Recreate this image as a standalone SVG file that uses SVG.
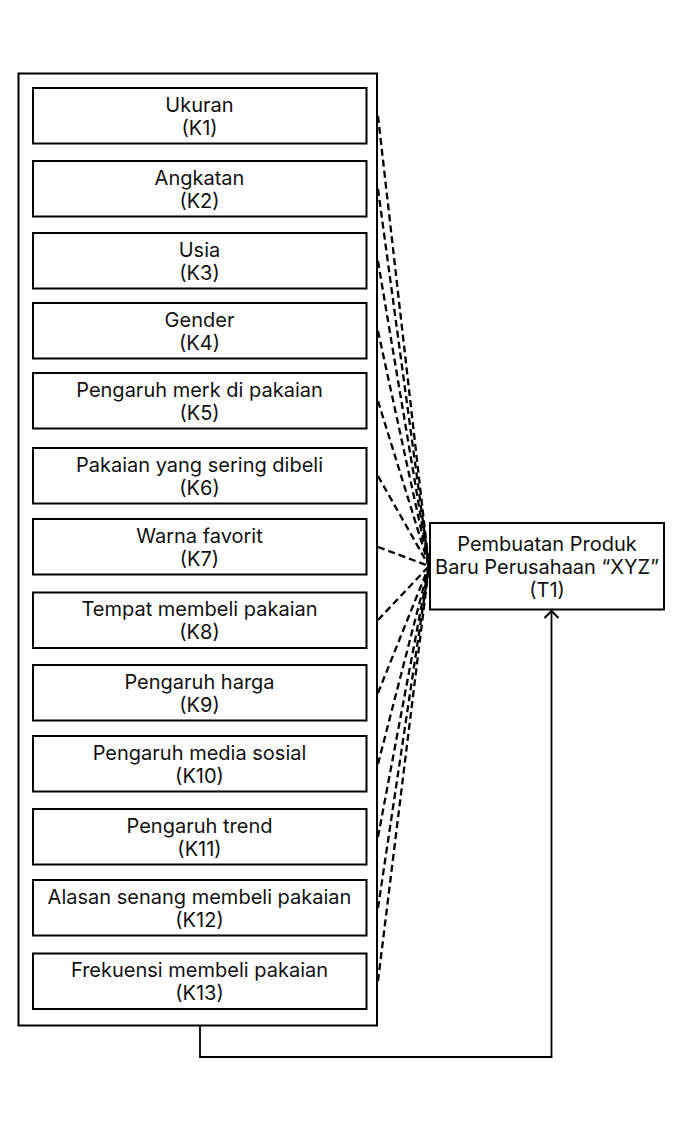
<svg xmlns="http://www.w3.org/2000/svg" width="683" height="1132" viewBox="0 0 683 1132">
<defs>
<style>
.box{fill:#fff;stroke:#000;stroke-width:2}
.t{font-family:Inter,"Liberation Sans",sans-serif;font-size:20px;fill:#111;text-anchor:middle}
.d{fill:none;stroke:#000;stroke-width:2.3;stroke-dasharray:7 4}
.s{fill:none;stroke:#000;stroke-width:1.8}
</style>
<marker id="open" markerWidth="16" markerHeight="16" refX="8" refY="8" orient="auto" markerUnits="userSpaceOnUse" viewBox="0 0 16 16">
<path d="M1,1 L8,8 L1,15" fill="none" stroke="#000" stroke-width="2"/>
</marker>
</defs>
<rect width="683" height="1132" fill="#fff"/>
<g id="connectors">
<line class="d" x1="378" y1="116" x2="429" y2="566"/>
<line class="d" x1="378" y1="189" x2="429" y2="566"/>
<line class="d" x1="378" y1="261" x2="429" y2="566"/>
<line class="d" x1="378" y1="331" x2="429" y2="566"/>
<line class="d" x1="378" y1="401" x2="429" y2="566"/>
<line class="d" x1="378" y1="476" x2="429" y2="566"/>
<line class="d" x1="378" y1="547" x2="429" y2="566"/>
<line class="d" x1="378" y1="620" x2="429" y2="566"/>
<line class="d" x1="378" y1="693" x2="429" y2="566"/>
<line class="d" x1="378" y1="764" x2="429" y2="566"/>
<line class="d" x1="378" y1="837" x2="429" y2="566"/>
<line class="d" x1="378" y1="908" x2="429" y2="566"/>
<line class="d" x1="378" y1="981" x2="429" y2="566"/>
<path class="s" d="M200,1026 V1057 H551.5 V611" marker-end="url(#open)"/>
</g>
<g id="group-K">
<rect class="box" x="18.5" y="73.5" width="358.5" height="952"/>
</g>
<g id="K1"><rect class="box" x="33" y="88" width="333.5" height="55.5"/><text class="t" x="199.5" y="111.5">Ukuran</text><text class="t" x="199.5" y="134.5">(K1)</text></g>
<g id="K2"><rect class="box" x="33" y="161" width="333.5" height="55.5"/><text class="t" x="199.5" y="184.5">Angkatan</text><text class="t" x="199.5" y="207.5">(K2)</text></g>
<g id="K3"><rect class="box" x="33" y="233" width="333.5" height="55.5"/><text class="t" x="199.5" y="256.5">Usia</text><text class="t" x="199.5" y="279.5">(K3)</text></g>
<g id="K4"><rect class="box" x="33" y="303" width="333.5" height="55.5"/><text class="t" x="199.5" y="326.5">Gender</text><text class="t" x="199.5" y="349.5">(K4)</text></g>
<g id="K5"><rect class="box" x="33" y="373" width="333.5" height="55.5"/><text class="t" x="199.5" y="396.5">Pengaruh merk di pakaian</text><text class="t" x="199.5" y="419.5">(K5)</text></g>
<g id="K6"><rect class="box" x="33" y="448" width="333.5" height="55.5"/><text class="t" x="199.5" y="471.5">Pakaian yang sering dibeli</text><text class="t" x="199.5" y="494.5">(K6)</text></g>
<g id="K7"><rect class="box" x="33" y="519" width="333.5" height="55.5"/><text class="t" x="199.5" y="542.5">Warna favorit</text><text class="t" x="199.5" y="565.5">(K7)</text></g>
<g id="K8"><rect class="box" x="33" y="592.5" width="333.5" height="55.5"/><text class="t" x="199.5" y="616">Tempat membeli pakaian</text><text class="t" x="199.5" y="639">(K8)</text></g>
<g id="K9"><rect class="box" x="33" y="665" width="333.5" height="55.5"/><text class="t" x="199.5" y="688.5">Pengaruh harga</text><text class="t" x="199.5" y="711.5">(K9)</text></g>
<g id="K10"><rect class="box" x="33" y="736" width="333.5" height="55.5"/><text class="t" x="199.5" y="759.5">Pengaruh media sosial</text><text class="t" x="199.5" y="782.5">(K10)</text></g>
<g id="K11"><rect class="box" x="33" y="809" width="333.5" height="55.5"/><text class="t" x="199.5" y="832.5">Pengaruh trend</text><text class="t" x="199.5" y="855.5">(K11)</text></g>
<g id="K12"><rect class="box" x="33" y="880" width="333.5" height="55.5"/><text class="t" x="199.5" y="903.5">Alasan senang membeli pakaian</text><text class="t" x="199.5" y="926.5">(K12)</text></g>
<g id="K13"><rect class="box" x="33" y="953.5" width="333.5" height="55.5"/><text class="t" x="199.5" y="977">Frekuensi membeli pakaian</text><text class="t" x="199.5" y="1000">(K13)</text></g>
<g id="T1"><rect class="box" x="430" y="523" width="234" height="86.5"/><text class="t" x="547" y="551">Pembuatan Produk</text><text class="t" x="547" y="574">Baru Perusahaan “XYZ”</text><text class="t" x="547" y="597">(T1)</text></g>
</svg>
